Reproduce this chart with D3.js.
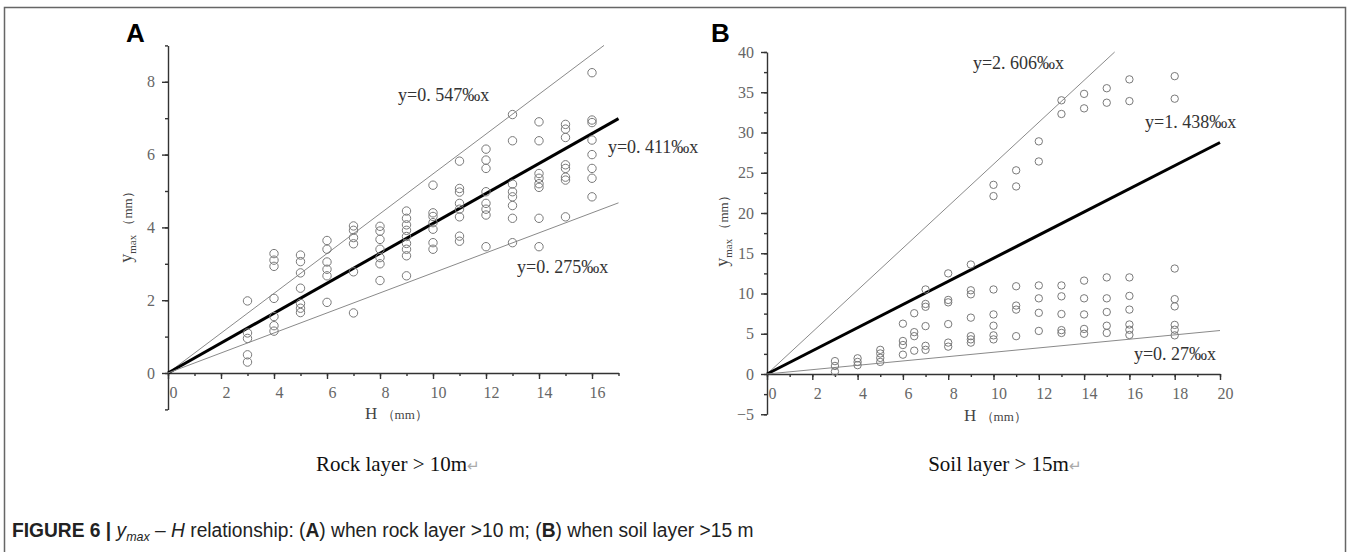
<!DOCTYPE html>
<html>
<head>
<meta charset="utf-8">
<title>Figure 6</title>
<script src="https://d3js.org/d3.v7.min.js"></script>
<style>
  body { margin: 0; background: #fff; }
  .tick text { font-family: "Liberation Serif", "DejaVu Serif", serif; font-size: 16px; fill: #666; }
  .axis path, .axis line { stroke: #333; stroke-width: 1.4; }
  .fit { fill: none; stroke: #8a8a8a; stroke-width: 1; }
  .fit.main { stroke: #000; stroke-width: 3; }
  .pt { fill: none; stroke: #7a7a7a; stroke-width: 1; }
  .eq { font-family: "Liberation Serif", "DejaVu Serif", serif; font-size: 18px; fill: #333; }
</style>
</head>
<body>
<svg id="fig" width="1356" height="552"></svg>
<script>
// (A) rock layer > 10m : H (mm) and measured y_max (mm) per column
var rockH = [3, 4, 5, 6, 7, 8, 9, 10, 11, 12, 13, 14, 15, 16];
var rockY = [
  [1.98, 1.1, 0.95, 0.5, 0.3],
  [3.28, 3.1, 2.93, 2.05, 1.55, 1.3, 1.15],
  [3.24, 3.06, 2.75, 2.33, 1.91, 1.78, 1.66],
  [3.64, 3.4, 3.05, 2.85, 2.67, 1.94],
  [4.04, 3.92, 3.72, 3.55, 2.78, 1.65],
  [4.03, 3.9, 3.67, 3.4, 3.17, 3.0, 2.54],
  [4.45, 4.25, 4.07, 3.92, 3.75, 3.56, 3.4, 3.22, 2.67],
  [5.16, 4.4, 4.3, 4.13, 3.95, 3.58, 3.4],
  [5.82, 5.07, 4.97, 4.66, 4.5, 4.29, 3.76, 3.62],
  [6.15, 5.85, 5.62, 4.98, 4.66, 4.5, 4.34, 3.47],
  [7.1, 6.38, 5.19, 4.98, 4.84, 4.6, 4.25, 3.58],
  [6.9, 6.38, 5.48, 5.35, 5.2, 5.1, 4.25, 3.47],
  [6.83, 6.7, 6.47, 5.72, 5.62, 5.38, 5.3, 4.29],
  [8.25, 6.95, 6.88, 6.4, 6.0, 5.62, 5.35, 4.84]
];
var rockSlopes = [0.547, 0.411, 0.275];
var rockLabels = ["y=0. 547‰x", "y=0. 411‰x", "y=0. 275‰x"];

// (B) soil layer > 15m
var soilH = [3, 4, 5, 6, 6.5, 7, 8, 9, 10, 11, 12, 13, 14, 15, 16, 18];
var soilY = [
  [1.6, 1.0, 0.3],
  [1.95, 1.5, 1.1],
  [3.0, 2.55, 2.0, 1.5],
  [6.25, 4.1, 3.6, 2.4],
  [7.55, 5.2, 4.7, 2.9],
  [10.5, 8.7, 8.35, 5.95, 3.5, 3.0],
  [12.5, 9.2, 8.9, 6.2, 3.9, 3.4],
  [13.6, 10.4, 9.9, 7.0, 4.7, 4.3, 3.9],
  [23.5, 22.1, 10.5, 7.4, 6.0, 4.8, 4.3],
  [25.3, 23.3, 10.9, 8.5, 8.0, 4.7],
  [28.9, 26.4, 11.0, 9.4, 7.6, 5.35],
  [34.0, 32.3, 11.0, 9.65, 7.45, 5.45, 5.1],
  [34.8, 33.0, 11.6, 9.4, 7.4, 5.6, 5.0],
  [35.5, 33.7, 12.0, 9.4, 7.7, 6.0, 5.1],
  [36.6, 33.9, 12.0, 9.7, 8.0, 6.15, 5.5, 4.85],
  [37.0, 34.2, 13.1, 9.3, 8.4, 6.1, 5.5, 4.8]
];
var soilSlopes = [2.606, 1.438, 0.27];
var soilLabels = ["y=2. 606‰x", "y=1. 438‰x", "y=0. 27‰x"];

var svg = d3.select("#fig");

// outer frame
svg.append("rect")
  .attr("x", 4.5).attr("y", 7.5).attr("width", 1341).attr("height", 570)
  .attr("fill", "none").attr("stroke", "#666").attr("stroke-width", 1.5);

function drawPanel(p) {
  var x = d3.scaleLinear().domain(p.xDomain).range(p.xRange);
  var y = d3.scaleLinear().domain(p.yDomain).range(p.yRange);
  var g = svg.append("g");

  // clip so the side label gets cut like in the scan
  var clipId = "clip" + p.letter;
  svg.append("clipPath").attr("id", clipId)
    .append("rect").attr("x", p.clip[0]).attr("y", 0).attr("width", p.clip[1] - p.clip[0]).attr("height", 552);
  g.attr("clip-path", "url(#" + clipId + ")");

  // minor ticks
  g.append("g").attr("class", "axis").attr("transform", "translate(0," + y(0) + ")")
    .call(d3.axisBottom(x).tickValues(d3.range(p.xDomain[0], p.xDomain[1] + 0.01, 1)).tickSize(3).tickFormat(""))
    .select(".domain").remove();
  g.append("g").attr("class", "axis").attr("transform", "translate(" + x(0) + ",0)")
    .call(d3.axisLeft(y).tickValues(d3.range(p.yDomain[0], p.yDomain[1] + 0.01, p.yMinor)).tickSize(3).tickFormat(""))
    .select(".domain").remove();

  // major ticks + labels
  var xa = g.append("g").attr("class", "axis").attr("transform", "translate(0," + y(0) + ")")
    .call(d3.axisBottom(x).tickValues(p.xTicks).tickSize(6).tickSizeOuter(0).tickPadding(8));
  xa.selectAll(".tick text").attr("dx", 5);
  g.append("g").attr("class", "axis").attr("transform", "translate(" + x(0) + ",0)")
    .call(d3.axisLeft(y).tickValues(p.yTicks).tickSize(6).tickSizeOuter(0).tickPadding(7));

  // axis titles
  var xt = g.append("text").attr("x", p.xTitle[0]).attr("y", p.xTitle[1])
    .attr("font-family", "Liberation Serif, serif").attr("fill", "#444");
  xt.append("tspan").attr("font-size", 17).text("H ");
  xt.append("tspan").attr("font-size", 13).text("（mm）");

  var yt = g.append("text").attr("transform", "translate(" + p.yTitle[0] + "," + p.yTitle[1] + ") rotate(-90)")
    .attr("text-anchor", "middle").attr("font-family", "Liberation Serif, serif").attr("fill", "#444");
  yt.append("tspan").attr("font-size", 18).text("y");
  yt.append("tspan").attr("font-size", 11).attr("dy", 4).text("max");
  yt.append("tspan").attr("font-size", 13).attr("dy", -4).text(" （mm）");

  // fitted lines from origin, stopped at the frame of the axes
  p.slopes.forEach(function (s, i) {
    var xEnd = Math.min(p.xDomain[1], p.yDomain[1] / s);
    g.append("line")
      .attr("class", i == 1 ? "fit main" : "fit")
      .attr("x1", x(0)).attr("y1", y(0))
      .attr("x2", x(xEnd)).attr("y2", y(s * xEnd));
  });

  // points
  p.h.forEach(function (h, i) {
    g.selectAll(null).data(p.vals[i]).enter().append("circle")
      .attr("class", "pt")
      .attr("cx", x(h))
      .attr("cy", function (d) { return y(d); })
      .attr("r", p.r);
  });

  // equation labels
  p.labels.forEach(function (t, i) {
    g.append("text").attr("class", "eq")
      .attr("x", x(p.labelPos[i][0])).attr("y", y(p.labelPos[i][1]))
      .text(t);
  });

  // panel letter
  svg.append("text").attr("x", p.letterPos[0]).attr("y", p.letterPos[1])
    .attr("font-family", "Liberation Sans, Arial, sans-serif").attr("font-weight", "bold")
    .attr("font-size", 26).attr("fill", "#000").text(p.letter);

  // sub caption
  var st = svg.append("text").attr("x", p.sub[0]).attr("y", p.sub[1]).attr("text-anchor", "middle")
    .attr("font-family", "Liberation Serif, serif").attr("font-size", 21).attr("fill", "#111");
  st.append("tspan").text(p.subText);
  st.append("tspan").attr("fill", "#aaa").attr("font-size", 15).text("↵");
}

drawPanel({
  letter: "A", letterPos: [126, 42],
  xDomain: [0, 17], xRange: [168, 618.5],
  yDomain: [-1, 9], yRange: [409.4, 45.4], yMinor: 1,
  xTicks: [0, 2, 4, 6, 8, 10, 12, 14, 16], yTicks: [0, 2, 4, 6, 8],
  h: rockH, vals: rockY, r: 4.2,
  slopes: rockSlopes, labels: rockLabels,
  labelPos: [[8.68, 7.47], [16.6, 6.04], [13.17, 2.75]],
  xTitle: [365, 419], yTitle: [132, 224],
  clip: [0, 701],
  sub: [398, 471], subText: "Rock layer > 10m"
});

drawPanel({
  letter: "B", letterPos: [711, 42],
  xDomain: [0, 20], xRange: [767, 1220],
  yDomain: [-5, 40], yRange: [414.25, 52], yMinor: 2.5,
  xTicks: [0, 2, 4, 6, 8, 10, 12, 14, 16, 18, 20], yTicks: [-5, 0, 5, 10, 15, 20, 25, 30, 35, 40],
  h: soilH, vals: soilY, r: 3.7,
  slopes: soilSlopes, labels: soilLabels,
  labelPos: [[9.09, 37.9], [16.69, 30.56], [16.2, 1.74]],
  xTitle: [964, 421], yTitle: [728, 228],
  clip: [701, 1345],
  sub: [1005, 471], subText: "Soil layer > 15m"
});

// figure caption, condensed a little like the journal face
var cap = svg.append("text").attr("transform", "translate(12,537) scale(0.96,1)")
  .attr("font-family", "Liberation Sans, Arial, sans-serif")
  .attr("font-size", 20).attr("fill", "#222");
cap.append("tspan").attr("font-weight", "bold").text("FIGURE 6 | ");
cap.append("tspan").attr("font-style", "italic").text("y");
cap.append("tspan").attr("font-style", "italic").attr("font-size", 13).attr("dy", 4).text("max");
cap.append("tspan").attr("dy", -4).text(" – ");
cap.append("tspan").attr("font-style", "italic").text("H");
cap.append("tspan").text("  relationship: (");
cap.append("tspan").attr("font-weight", "bold").text("A");
cap.append("tspan").text(") when rock layer >10 m; (");
cap.append("tspan").attr("font-weight", "bold").text("B");
cap.append("tspan").text(") when soil layer >15 m");
</script>
</body>
</html>
